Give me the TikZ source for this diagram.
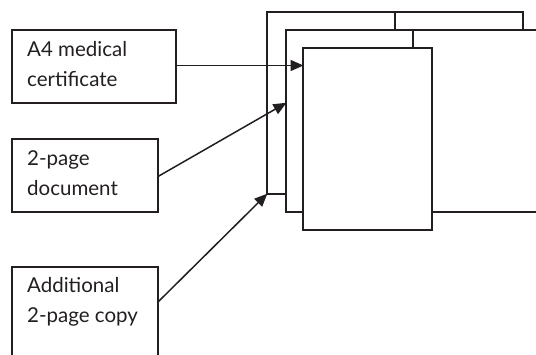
\documentclass[tikz,border=0pt]{standalone}
\usepackage{fontspec}
\setmainfont{Lato}
\usetikzlibrary{arrows.meta}
\definecolor{ink}{HTML}{231F20}
\begin{document}
\begin{tikzpicture}[x=1pt,y=-1pt,
  lw/.style={line width=1.5pt, draw=ink},
  label box/.style={lw, minimum width=#1, minimum height=73pt, inner sep=0pt, outer sep=0pt},
  lbl/.style={font=\fontsize{20.5}{30}\selectfont, text=ink, align=left, anchor=north west, inner sep=0pt},
  page/.style={lw, fill=white, inner sep=0pt, outer sep=0pt, anchor=north west, minimum height=182pt},
  arr/.style={lw, line width=1.5pt, -{Triangle[length=13pt,width=11pt]}, shorten >=-0.5pt}]
\useasboundingbox (0,0) rectangle (536,354);
\clip (0,0) rectangle (536,354);
% label boxes
\node[label box=164pt, anchor=north west] (a) at (12,30) {};
\node[lbl] (at) at (27,41) {A4 medical\\certificate};
\node[label box=146pt, anchor=north west] (b) at (12,139) {};
\node[lbl] (bt) at (27,150) {2-page\\document};
\draw[lw] (12,380) |- (158,267) -- (158,380);
\node[lbl] (ct) at (27,277) {Additional\\2-page copy};
\coordinate (c) at (158,302);
% pages: back spread
\node[page, minimum width=128pt] (backL) at (267,12) {};
\node[page, minimum width=128pt] (backR) at (395,12) {};
% middle spread
\node[page, minimum width=127pt] (midL) at (286,30) {};
\node[page, minimum width=127pt] (midR) at (413,30) {};
% front page
\node[page, minimum width=129pt] (front) at (303,48) {};
% connectors
\coordinate (t2) at (286,103);
\draw[arr] ([yshift=1pt]a.east) -- ([yshift=1pt]a.east -| front.west);
\draw[arr] ([yshift=-1pt]b.east) -- (t2);
\draw[arr] (c) -- (backL.south west);
\end{tikzpicture}
\end{document}
